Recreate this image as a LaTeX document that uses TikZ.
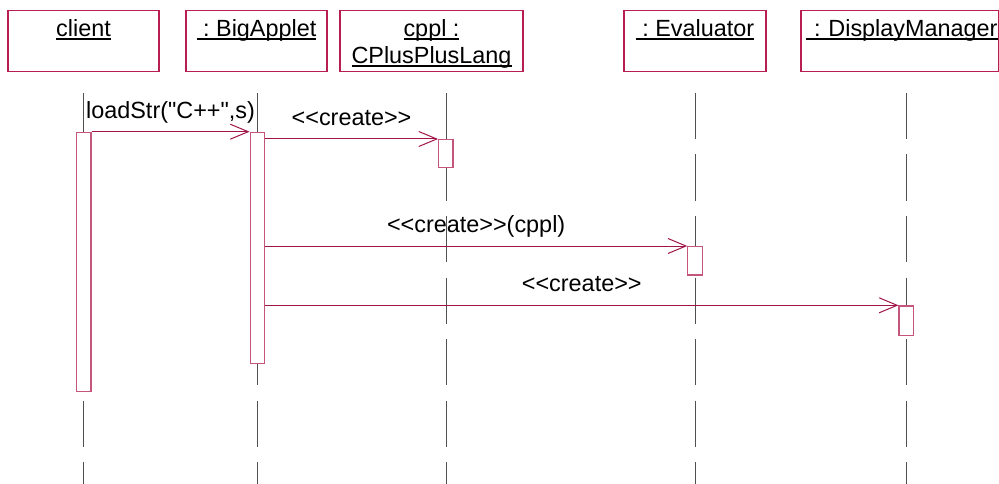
\documentclass[tikz,border=0pt]{standalone}
\usepackage{fontspec}
\setmainfont{Liberation Sans}[Ligatures=TeXOff]
\usetikzlibrary{arrows.meta}
\definecolor{boxline}{HTML}{B81E52}
\definecolor{barline}{HTML}{C4557C}
\definecolor{msgline}{HTML}{A01448}
\definecolor{lifegray}{HTML}{505050}
\newsavebox\ulbox
\newcommand\ulab[1]{\sbox\ulbox{#1}\rlap{\rule[-3.2pt]{\wd\ulbox}{1.8pt}}\usebox\ulbox}
\tikzset{
  obj/.style={anchor=north, draw=boxline, line width=1.2pt, inner sep=0pt, minimum height=60.7pt, text height=26pt, text depth=34.7pt, text=black},
  actbar/.style={anchor=north, draw=barline, fill=white, line width=1.2pt, inner sep=0pt, minimum width=14.3pt},
  life/.style={draw=lifegray, line width=1pt, dash pattern=on 46pt off 15.5pt},
  msg/.style={-{Straight Barb[length=18pt,width=15pt]}, line width=1pt, draw=msgline},
  lbl/.style={anchor=base, yshift=13.5pt, inner sep=0pt, text=black},
}

\begin{document}
\begin{tikzpicture}[x=1pt, y=-1pt, font=\fontsize{23.4}{27}\selectfont]
    \useasboundingbox (0,0) rectangle (999,484);
    \clip (0,0) rectangle (999,484);
    % objects
    \node[obj, minimum width=151pt] (client) at (83.5,10) {\ulab{client}};
    \node[obj, minimum width=141pt] (applet) at (256.5,10) {\ulab{\ :\ BigApplet}};
    \node[obj, minimum width=183pt] (cppl) at (431.5,10) {\begin{tabular}[t]{@{}c@{}}\ulab{cppl :}\\\ulab{CPlusPlusLang}\end{tabular}};
    \node[obj, minimum width=142pt] (eval) at (695,10) {\ulab{\ :\ Evaluator}};
    \node[obj, text width=195pt, align=right, inner xsep=1.5pt] (disp) at (900,10) {\ulab{\ :\ DisplayManager}};
    % lifelines
    \foreach \x in {83.5,257,446,695,906} \draw[life] (\x,93) -- (\x,484);
    % activations
    \node[actbar, minimum height=259.3pt] (aClient) at (83.8,131.7) {};
    \node[actbar, minimum height=231pt] (aApplet) at (257.3,131.7) {};
    \node[actbar, minimum height=28pt] (aCppl) at (445.8,139) {};
    \node[actbar, minimum height=28.3pt] (aEval) at (695,246) {};
    \node[actbar, minimum height=29.7pt] (aDisp) at (906.2,305.3) {};
    % messages
    \draw[msg] (aClient.north east) -- node[lbl] {loadStr("C++",s)} (aApplet.north west);
    \draw[msg] (aApplet.east |- aCppl.north) -- node[lbl] {<<create>>} (aCppl.north west);
    \draw[msg] (aApplet.east |- aEval.north) -- node[lbl] {<<create>>(cppl)} (aEval.north west);
    \draw[msg] (aApplet.east |- aDisp.north) -- node[lbl] {<<create>>} (aDisp.north west);
\end{tikzpicture}
\end{document}
